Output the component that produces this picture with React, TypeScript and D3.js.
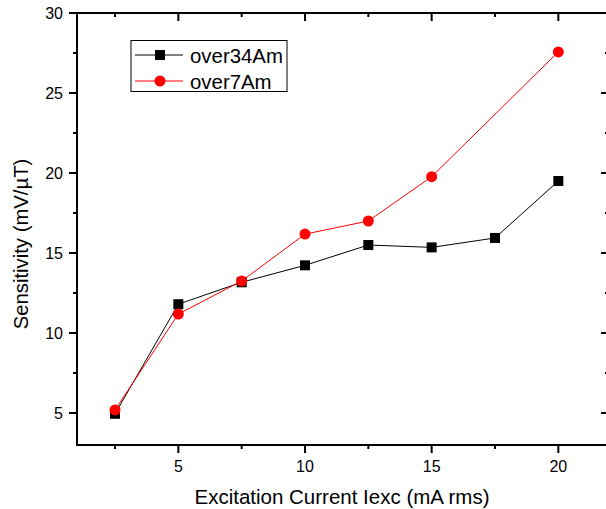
import React, { useEffect, useRef } from "react";
import * as d3 from "d3";

const currents = [2.5, 5, 7.5, 10, 12.5, 15, 17.5, 20];
const over34Am = [4.95, 11.8, 13.17, 14.23, 15.5, 15.35, 15.94, 19.5];
const over7AmX = [2.5, 5, 7.5, 10, 12.5, 15, 20];
const over7Am = [5.19, 11.18, 13.25, 16.18, 17.0, 19.77, 27.57];
const xMajorTicks = [5, 10, 15, 20];
const xMinorTicks = [2.5, 7.5, 12.5, 17.5];
const yMajorTicks = [5, 10, 15, 20, 25, 30];
const yMinorTicks = [7.5, 12.5, 17.5, 22.5, 27.5];

const FONT = "Arial, 'Liberation Sans', sans-serif";

const App = () => {
  const svgRef = useRef<SVGSVGElement>(null);

  useEffect(() => {
    const width = 606,
      height = 509;
    const left = 77,
      right = 609,
      top = 13,
      bottom = 445;

    const svg = d3.select(svgRef.current);
    svg.selectAll("*").remove();

    const x = d3.scaleLinear().domain([1, 22]).range([left, right]);
    const y = d3.scaleLinear().domain([3, 30]).range([bottom, top]);

    svg.append("rect").attr("width", width).attr("height", height).attr("fill", "white");

    // lines
    const line = d3
      .line<[number, number]>()
      .x((d) => x(d[0]))
      .y((d) => y(d[1]));

    const blackPts = currents.map((c, i) => [c, over34Am[i]] as [number, number]);
    const redPts = over7AmX.map((c, i) => [c, over7Am[i]] as [number, number]);

    svg.append("path").datum(blackPts).attr("d", line).attr("fill", "none").attr("stroke", "black").attr("stroke-width", 1);
    svg
      .selectAll(".sq")
      .data(blackPts)
      .enter()
      .append("rect")
      .attr("x", (d) => x(d[0]) - 5)
      .attr("y", (d) => y(d[1]) - 5)
      .attr("width", 10)
      .attr("height", 10)
      .attr("fill", "black");

    svg.append("path").datum(redPts).attr("d", line).attr("fill", "none").attr("stroke", "red").attr("stroke-width", 1);
    svg
      .selectAll(".dot")
      .data(redPts)
      .enter()
      .append("circle")
      .attr("cx", (d) => x(d[0]))
      .attr("cy", (d) => y(d[1]))
      .attr("r", 5.5)
      .attr("fill", "red");

    // axes
    const axis = svg.append("g").attr("stroke", "black").attr("stroke-width", 2);
    axis.append("rect").attr("x", left).attr("y", top).attr("width", right - left).attr("height", bottom - top).attr("fill", "none");

    xMajorTicks.forEach((t) => {
      axis.append("line").attr("x1", x(t)).attr("x2", x(t)).attr("y1", bottom).attr("y2", bottom + 8);
      axis.append("line").attr("x1", x(t)).attr("x2", x(t)).attr("y1", top).attr("y2", top + 8);
    });
    xMinorTicks.forEach((t) => {
      axis.append("line").attr("x1", x(t)).attr("x2", x(t)).attr("y1", bottom).attr("y2", bottom + 4);
      axis.append("line").attr("x1", x(t)).attr("x2", x(t)).attr("y1", top).attr("y2", top + 4);
    });
    yMajorTicks.forEach((t) => {
      axis.append("line").attr("x1", left - 8).attr("x2", left).attr("y1", y(t)).attr("y2", y(t));
      axis.append("line").attr("x1", right - 8).attr("x2", right).attr("y1", y(t)).attr("y2", y(t));
    });
    yMinorTicks.forEach((t) => {
      axis.append("line").attr("x1", left - 4).attr("x2", left).attr("y1", y(t)).attr("y2", y(t));
      axis.append("line").attr("x1", right - 4).attr("x2", right).attr("y1", y(t)).attr("y2", y(t));
    });

    // tick labels
    svg
      .selectAll(".xl")
      .data(xMajorTicks)
      .enter()
      .append("text")
      .attr("x", (d) => x(d))
      .attr("y", 472)
      .attr("text-anchor", "middle")
      .attr("font-family", FONT)
      .attr("font-size", 16)
      .text((d) => d);

    svg
      .selectAll(".yl")
      .data(yMajorTicks)
      .enter()
      .append("text")
      .attr("x", 63)
      .attr("y", (d) => y(d) + 6)
      .attr("text-anchor", "end")
      .attr("font-family", FONT)
      .attr("font-size", 16)
      .text((d) => d);

    // axis titles
    svg
      .append("text")
      .attr("x", 342)
      .attr("y", 503.5)
      .attr("text-anchor", "middle")
      .attr("font-family", FONT)
      .attr("font-size", 20.5)
      .text("Excitation Current Iexc (mA rms)");

    svg
      .append("text")
      .attr("transform", `translate(28, 244) rotate(-90)`)
      .attr("text-anchor", "middle")
      .attr("font-family", FONT)
      .attr("font-size", 20.3)
      .text("Sensitivity (mV/\u00b5T)");

    // legend
    const lg = svg.append("g");
    lg.append("rect").attr("x", 131).attr("y", 40.5).attr("width", 156).attr("height", 51).attr("fill", "white").attr("stroke", "black").attr("stroke-width", 1);
    const items = [
      { name: "over34Am", color: "black", shape: "square", cy: 55 },
      { name: "over7Am", color: "red", shape: "circle", cy: 81 },
    ];
    items.forEach((it) => {
      lg.append("line").attr("x1", 135).attr("x2", 183).attr("y1", it.cy).attr("y2", it.cy).attr("stroke", it.color).attr("stroke-width", 1);
      if (it.shape === "square") {
        lg.append("rect").attr("x", 155).attr("y", it.cy - 5).attr("width", 10).attr("height", 10).attr("fill", it.color);
      } else {
        lg.append("circle").attr("cx", 160).attr("cy", it.cy).attr("r", 5.5).attr("fill", it.color);
      }
      lg.append("text")
        .attr("x", 190)
        .attr("y", it.cy + 7.5)
        .attr("font-family", FONT)
        .attr("font-size", 20.4)
        .text(it.name);
    });
  }, []);

  return (
    <svg
      ref={svgRef}
      width={606}
      height={509}
      style={{ position: "absolute", left: 0, top: 0 }}
    ></svg>
  );
};

export default App;
